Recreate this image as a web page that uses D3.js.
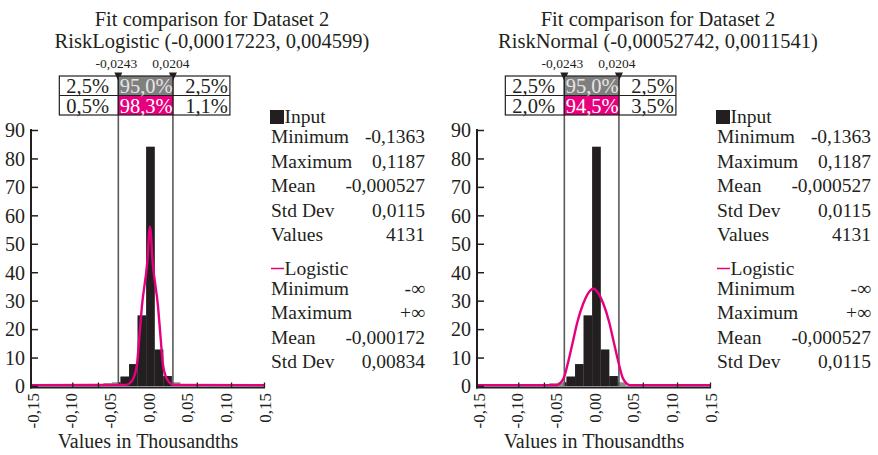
<!DOCTYPE html>
<html>
<head>
<meta charset="utf-8">
<script src="https://cdn.jsdelivr.net/npm/d3@7"></script>
<style>
  html, body { margin: 0; padding: 0; background: #fff; }
  svg { display: block; }
  text { font-family: "Liberation Serif", "Times New Roman", serif; fill: #231f20; }
</style>
</head>
<body>
<svg id="chart" width="878" height="455"></svg>
<script>
// Histogram of the input data: bin lower edges (width 0.007) and densities
const binEdges   = [-0.0365, -0.0295, -0.0225, -0.0155, -0.0085, -0.0015, 0.0055, 0.0125, 0.0195];
const binWidth   = 0.007;
const binDensity = [1.0, 1.3, 3.3, 7.7, 24.8, 84.1, 12.8, 3.5, 1.3];

// Fitted logistic density
const logisticX = [-0.095, -0.0180, -0.0141, -0.0114, -0.0089, -0.0073, -0.0050, -0.0007, 0.0016,
                   0.0039, 0.0082, 0.0105, 0.0121, 0.0146, 0.0173, 0.0212, 0.095];
const logisticY = [0.3, 0.4, 1.3, 3.3, 8, 16, 28, 43, 56, 43, 28, 16, 8, 3.3, 1.3, 0.4, 0.3];

// Fitted normal density
const normalX = [-0.095, -0.0306, -0.0276, -0.0246, -0.0214, -0.0176, -0.0136, -0.0088, -0.0051, -0.0006,
                 0.0039, 0.0076, 0.0124, 0.0164, 0.0202, 0.0234, 0.0264, 0.0294, 0.095];
const normalY = [0.3, 0.3, 1, 3, 8, 15, 22.5, 29, 32.4, 34.2, 32.4, 29, 22.5, 15, 8, 3, 1, 0.3, 0.3];

// 95% delimiters (2.5% / 97.5%)
const delimiters = [-0.0243, 0.0204];

// Axes
const yTicks      = [0, 10, 20, 30, 40, 50, 60, 70, 80, 90];
const xTickLabels = ["-0,15", "-0,10", "-0,05", "0,00", "0,05", "0,10", "0,15"];
const xTickMarks  = [-0.062, -0.041, 0.040, 0.068, 0.095];

// Panel texts
const titleLine   = "Fit comparison for Dataset 2";
const fitTitles   = ["RiskLogistic (-0,00017223, 0,004599)", "RiskNormal (-0,00052742, 0,0011541)"];
const inputRow    = ["2,5%", "95,0%", "2,5%"];
const fitRows     = [["0,5%", "98,3%", "1,1%"], ["2,0%", "94,5%", "3,5%"]];
const inputLabels = ["Minimum", "Maximum", "Mean", "Std Dev", "Values"];
const inputValues = ["-0,1363", "0,1187", "-0,000527", "0,0115", "4131"];
const fitName     = "Logistic";
const fitLabels   = ["Minimum", "Maximum", "Mean", "Std Dev"];
const fitValues   = [["-∞", "+∞", "-0,000172", "0,00834"], ["-∞", "+∞", "-0,000527", "0,0115"]];
const xAxisTitle  = "Values in Thousandths";

const INK = "#231f20", GREY_BAR = "#8c8c8c", MAGENTA = "#e6007e";

const svg = d3.select("#chart");

const x = d3.scaleLinear().domain([-0.095, 0.095]).range([32, 264]);
const y = d3.scaleLinear().domain([0, 90]).range([386, 130]);
const xLab = d3.scalePoint().domain(xTickLabels).range([32, 264]);
// decimal comma and plain hyphen for negatives
const comma = v => d3.format(".4f")(v).replace(".", ",").replace("\u2212", "-");

function panel(i, curveX, curveY) {
  const g = svg.append("g").attr("transform", `translate(${i * 446},0)`);
  const xl = x(delimiters[0]), xr = x(delimiters[1]);

  // clip for the section between the delimiters
  const clipId = "inside" + i;
  g.append("clipPath").attr("id", clipId).append("rect")
    .attr("x", xl).attr("y", 0).attr("width", xr - xl).attr("height", 455);
  const plotClip = "plot" + i;
  g.append("clipPath").attr("id", plotClip).append("rect")
    .attr("x", 32).attr("y", 100).attr("width", 232).attr("height", 300);

  // titles
  g.append("text").attr("x", 212).attr("y", 25.5).attr("text-anchor", "middle")
    .style("font-size", "20.5px").text(titleLine);
  g.append("text").attr("x", 212).attr("y", 47.5).attr("text-anchor", "middle")
    .style("font-size", "20.5px").text(fitTitles[i]);

  // histogram: grey outside the delimiters, black inside
  const bars = binEdges.map((e, k) => ({ x0: e, x1: e + binWidth, v: binDensity[k] }));
  const drawBars = (sel, fill) => sel.selectAll("rect").data(bars).join("rect")
    .attr("x", d => x(d.x0)).attr("width", d => x(d.x1) - x(d.x0))
    .attr("y", d => y(d.v)).attr("height", d => y(0) - y(d.v))
    .attr("fill", fill);
  drawBars(g.append("g"), GREY_BAR);
  drawBars(g.append("g").attr("clip-path", `url(#${clipId})`), INK);

  // delimiter lines
  g.append("g").selectAll("line").data(delimiters).join("line")
    .attr("x1", d => x(d)).attr("x2", d => x(d))
    .attr("y1", 75).attr("y2", y(0))
    .attr("stroke", "#5a5a5a").attr("stroke-width", 1.6);

  // fitted curve
  const pts = curveX.map((v, k) => [v, curveY[k]]);
  g.append("path").datum(pts)
    .attr("clip-path", `url(#${plotClip})`)
    .attr("d", d3.line().x(d => x(d[0])).y(d => y(d[1])).curve(d3.curveMonotoneX))
    .attr("fill", "none").attr("stroke", MAGENTA).attr("stroke-width", 2.4);

  // y axis
  const ya = g.append("g").attr("transform", "translate(31,0)")
    .call(d3.axisLeft(y).tickValues(yTicks).tickSize(-7).tickSizeOuter(0).tickPadding(6));
  ya.select(".domain").attr("stroke", INK).attr("stroke-width", 2)
    .attr("d", `M0,${y(90) - 1}V${y(0) + 2.5}`);
  ya.selectAll(".tick line").attr("stroke", INK).attr("stroke-width", 1.5);
  ya.selectAll(".tick text").attr("fill", INK)
    .style("font-family", '"Liberation Serif","Times New Roman",serif')
    .style("font-size", "20px").attr("dy", "0.34em");

  // x axis line with tick marks
  const xa = g.append("g").attr("transform", "translate(0,387.5)")
    .call(d3.axisBottom(x).tickValues(xTickMarks).tickSize(-5).tickSizeOuter(0).tickFormat(""));
  xa.select(".domain").attr("stroke", INK).attr("stroke-width", 2).attr("d", "M30,0H265");
  xa.selectAll(".tick line").attr("stroke", INK).attr("stroke-width", 1.3);

  // x tick labels, rotated
  const xt = g.append("g").attr("transform", "translate(0,387)")
    .call(d3.axisBottom(xLab).tickSize(0).tickPadding(0));
  xt.select(".domain").remove();
  xt.selectAll(".tick text")
    .attr("transform", "rotate(-90)").attr("text-anchor", "end")
    .attr("x", -6).attr("y", 0).attr("dy", "0.36em").attr("fill", INK)
    .style("font-family", '"Liberation Serif","Times New Roman",serif')
    .style("font-size", "17px");

  g.append("text").attr("x", x(0)).attr("y", 448).attr("text-anchor", "middle")
    .style("font-size", "20px").text(xAxisTitle);

  // delimiter values and markers
  g.append("g").selectAll("text").data(delimiters).join("text")
    .attr("x", d => x(d) - 2).attr("y", 68).attr("text-anchor", "middle")
    .style("font-size", "13.5px").text(d => comma(d));
  g.append("g").selectAll("path").data(delimiters).join("path")
    .attr("d", d => `M${x(d) - 4},72.5L${x(d) + 4},72.5L${x(d)},81Z`).attr("fill", INK);

  // probability table
  const tL = xl - 59, tR = xr + 57, rTop = 76, rMid = 95.5, rBot = 115;
  g.append("rect").attr("x", xl).attr("y", rTop).attr("width", xr - xl).attr("height", rMid - rTop)
    .attr("fill", "#7f7f7f");
  g.append("rect").attr("x", xl).attr("y", rMid).attr("width", xr - xl).attr("height", rBot - rMid)
    .attr("fill", MAGENTA);
  g.append("rect").attr("x", tL).attr("y", rTop).attr("width", tR - tL).attr("height", rBot - rTop)
    .attr("fill", "none").attr("stroke", INK).attr("stroke-width", 1.2);
  g.append("line").attr("x1", tL).attr("x2", tR).attr("y1", rMid).attr("y2", rMid)
    .attr("stroke", INK).attr("stroke-width", 1.2);
  [xl, xr].forEach(v => g.append("line").attr("x1", v).attr("x2", v).attr("y1", rTop).attr("y2", rBot)
    .attr("stroke", INK).attr("stroke-width", 1.2));

  const rows = [{ vals: inputRow, base: 92.5, mid: "#e6e6e6" }, { vals: fitRows[i], base: 112.5, mid: "#ffffff" }];
  rows.forEach(r => {
    g.append("text").attr("x", tL + 7).attr("y", r.base).style("font-size", "20.5px").text(r.vals[0]);
    g.append("text").attr("x", (xl + xr) / 2 + 0.5).attr("y", r.base).attr("text-anchor", "middle")
      .style("font-size", "20.5px").style("fill", r.mid).text(r.vals[1]);
    g.append("text").attr("x", tR - 2).attr("y", r.base).attr("text-anchor", "end")
      .style("font-size", "20.5px").text(r.vals[2]);
  });

  // legend: input statistics
  const lx = 271, vx = 425;
  g.append("rect").attr("x", 270).attr("y", 110).attr("width", 14).attr("height", 14).attr("fill", INK);
  g.append("text").attr("x", 284.5).attr("y", 123).style("font-size", "19.5px").text("Input");
  const inBase = [143, 167.5, 192, 216.5, 241];
  inputLabels.forEach((lab, k) => {
    g.append("text").attr("x", lx).attr("y", inBase[k]).style("font-size", "19.5px").text(lab);
    g.append("text").attr("x", vx).attr("y", inBase[k]).attr("text-anchor", "end")
      .style("font-size", "19.5px").text(inputValues[k]);
  });

  // legend: fitted distribution statistics
  g.append("line").attr("x1", 271).attr("x2", 284).attr("y1", 268.5).attr("y2", 268.5)
    .attr("stroke", MAGENTA).attr("stroke-width", 1.5);
  g.append("text").attr("x", 284.5).attr("y", 275).style("font-size", "19.5px").text(fitName);
  const fitBase = [295, 319, 343.5, 368];
  fitLabels.forEach((lab, k) => {
    g.append("text").attr("x", lx).attr("y", fitBase[k]).style("font-size", "19.5px").text(lab);
    g.append("text").attr("x", vx).attr("y", fitBase[k]).attr("text-anchor", "end")
      .style("font-size", "19.5px").text(fitValues[i][k]);
  });
}

panel(0, logisticX, logisticY);
panel(1, normalX, normalY);
</script>
</body>
</html>
